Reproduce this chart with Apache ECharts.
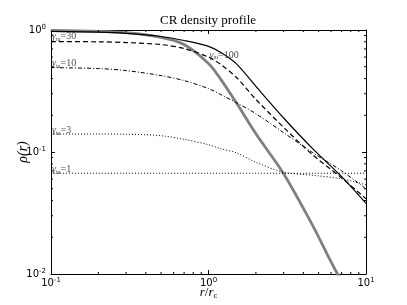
<!DOCTYPE html>
<html><head><meta charset="utf-8">
<script src="https://cdn.jsdelivr.net/npm/echarts@6/dist/echarts.min.js"></script>
<style>html,body{margin:0;padding:0;background:#fff}#c{width:407px;height:305px}</style>
</head><body><div id="c"></div>
<script>
// ---- data ----
const rGrid  = [0.1, 0.2, 0.3, 0.5, 0.7, 1, 1.2, 1.5, 2, 3, 4.6, 7, 10];
const rho100 = [0.975, 0.962, 0.94, 0.885, 0.82, 0.735, 0.655, 0.53, 0.345, 0.19, 0.106, 0.0628, 0.0379];
const rho30  = [0.804, 0.800, 0.789, 0.760, 0.705, 0.600, 0.520, 0.410, 0.270, 0.159, 0.0945, 0.0614, 0.0413];
const rho10  = [0.492, 0.483, 0.465, 0.423, 0.385, 0.331, 0.295, 0.254, 0.206, 0.144, 0.0986, 0.0701, 0.0499];
const rho3   = [0.1404, 0.1404, 0.140, 0.136, 0.127, 0.1147, 0.1063, 0.0986, 0.0824, 0.0682, 0.0644, 0.0603, 0.0538];
const rho1   = [0.067, 0.067, 0.067, 0.067, 0.067, 0.067, 0.067, 0.067, 0.067, 0.067, 0.067, 0.067, 0.067];
const rGas   = [0.1, 0.2, 0.3, 0.5, 0.7, 1, 1.2, 1.5, 2, 3, 4.6, 6.6, 7.5];
const rhoGas = [0.991, 0.975, 0.950, 0.870, 0.760, 0.531, 0.392, 0.254, 0.141, 0.0663, 0.0248, 0.0100, 0.0084];
const labelVals = ['100', '30', '10', '3', '1'];
const labelR    = [1.0, 0.1, 0.1, 0.1, 0.1];
const labelRho  = [0.625, 0.893, 0.536, 0.149, 0.0716];
const xRange = [0.1, 10];
const yRange = [0.01, 1];
const xMinor = [0.2,0.3,0.4,0.5,0.6,0.7,0.8,0.9,2,3,4,5,6,7,8,9];
const yMinor = [0.02,0.03,0.04,0.05,0.06,0.07,0.08,0.09,0.2,0.3,0.4,0.5,0.6,0.7,0.8,0.9];

const SERIF = '"Liberation Serif", "DejaVu Serif", serif';
const SANS = '"DejaVu Sans", sans-serif';
const zip = (a, b) => a.map((v, i) => [v, b[i]]);

const tickFmt = v => '{b|10}{p|' + Math.round(Math.log10(v)) + '}';
const tickRich = {
  b: {fontFamily: SANS, fontSize: 10, color: '#000', lineHeight: 12},
  p: {fontFamily: SANS, fontSize: 7, color: '#000', lineHeight: 6, verticalAlign: 'top'}
};
const axisBase = (extra) => Object.assign({
  type: 'log', logBase: 10,
  axisLine: {show: true, onZero: false, lineStyle: {color: '#000', width: 1}},
  axisTick: {show: true, inside: true, length: 4, lineStyle: {color: '#000', width: 1}},
  splitLine: {show: false},
  minorTick: {show: false},
  nameMoveOverlap: false
}, extra);

function lineSeries(data, style, z) {
  return {type: 'line', data: data, showSymbol: false, symbol: 'none', smooth: 0.3,
    lineStyle: style, z: z, silent: true, animation: false, clip: true};
}

function minorTicks(vals, isX) {
  return {
    type: 'custom', coordinateSystem: 'cartesian2d', silent: true, clip: false, z: 5,
    data: vals.map(v => isX ? [v, yRange[0]] : [xRange[0], v]),
    renderItem: function (params, api) {
      let a, b;
      if (isX) {
        const v = api.value(0);
        a = api.coord([v, yRange[0]]); b = api.coord([v, yRange[1]]);
        return {type: 'group', children: [
          {type: 'line', shape: {x1: a[0], y1: a[1], x2: a[0], y2: a[1] - 2}, style: {stroke: '#000', lineWidth: 1}},
          {type: 'line', shape: {x1: b[0], y1: b[1], x2: b[0], y2: b[1] + 2}, style: {stroke: '#000', lineWidth: 1}}
        ]};
      } else {
        const v = api.value(1);
        a = api.coord([xRange[0], v]); b = api.coord([xRange[1], v]);
        return {type: 'group', children: [
          {type: 'line', shape: {x1: a[0], y1: a[1], x2: a[0] + 2, y2: a[1]}, style: {stroke: '#000', lineWidth: 1}},
          {type: 'line', shape: {x1: b[0], y1: b[1], x2: b[0] - 2, y2: b[1]}, style: {stroke: '#000', lineWidth: 1}}
        ]};
      }
    }
  };
}

const chart = echarts.init(document.getElementById('c'), null, {renderer: 'canvas'});
chart.setOption({
  animation: false,
  backgroundColor: '#fff',
  title: {
    text: 'CR density profile', left: 208, top: 14, padding: 0, textAlign: 'center',
    textStyle: {fontFamily: SERIF, fontWeight: 'normal', fontSize: 13, color: '#000'}
  },
  grid: {left: 51, right: 41, top: 30, bottom: 31, containLabel: false, outerBoundsMode: 'none'},
  xAxis: [
    axisBase({min: xRange[0], max: xRange[1], position: 'bottom',
      axisLabel: {formatter: tickFmt, rich: tickRich, margin: 3},
      name: '{i|r}{n|/}{i|r}{s|c}', nameLocation: 'middle', nameGap: 12,
      nameTextStyle: {rich: {
        i: {fontFamily: SERIF, fontStyle: 'italic', fontSize: 13, color: '#000', lineHeight: 14},
        n: {fontFamily: SERIF, fontSize: 13, color: '#000', lineHeight: 14},
        s: {fontFamily: SERIF, fontSize: 8.5, color: '#000', lineHeight: 8, verticalAlign: 'bottom'}
      }}}),
    axisBase({min: xRange[0], max: xRange[1], position: 'top', axisLabel: {show: false}})
  ],
  yAxis: [
    axisBase({min: yRange[0], max: yRange[1], position: 'left',
      axisLabel: {formatter: tickFmt, rich: tickRich, margin: 5},
      name: 'ρ(r)', nameLocation: 'middle', nameGap: 21,
      nameTextStyle: {fontFamily: SERIF, fontStyle: 'italic', fontSize: 14, color: '#000'}}),
    axisBase({min: yRange[0], max: yRange[1], position: 'right', axisLabel: {show: false}})
  ],
  series: [
    lineSeries(zip(rGas, rhoGas), {color: '#808080', width: 2.8}, 2),
    lineSeries(zip(rGrid, rho100), {color: '#000', width: 1.2}, 3),
    lineSeries(zip(rGrid, rho30), {color: '#000', width: 1.2, type: [5, 3]}, 3),
    lineSeries(zip(rGrid, rho10), {color: '#000', width: 1, type: [4, 2, 1, 2]}, 3),
    lineSeries(zip(rGrid, rho3), {color: '#000', width: 1, type: [1, 2]}, 3),
    lineSeries(zip(rGrid, rho1), {color: '#000', width: 1, type: [1, 2]}, 3),
    {
      type: 'scatter', symbolSize: 0, silent: true, z: 6, clip: false,
      data: labelVals.map((t, i) => [labelR[i], labelRho[i], t]),
      label: {
        show: true, position: 'right', distance: 1, color: '#222',
        formatter: p => '{g|γ}{s|tu}{e|=' + p.data[2] + '}',
        rich: {
          g: {fontFamily: SERIF, fontStyle: 'italic', fontSize: 10, color: '#222', lineHeight: 12},
          s: {fontFamily: SERIF, fontSize: 6, color: '#222', lineHeight: 6, verticalAlign: 'bottom'},
          e: {fontFamily: SERIF, fontSize: 10, color: '#222', lineHeight: 12}
        }
      }
    },
    minorTicks(xMinor, true),
    minorTicks(yMinor, false)
  ]
});
</script></body></html>
